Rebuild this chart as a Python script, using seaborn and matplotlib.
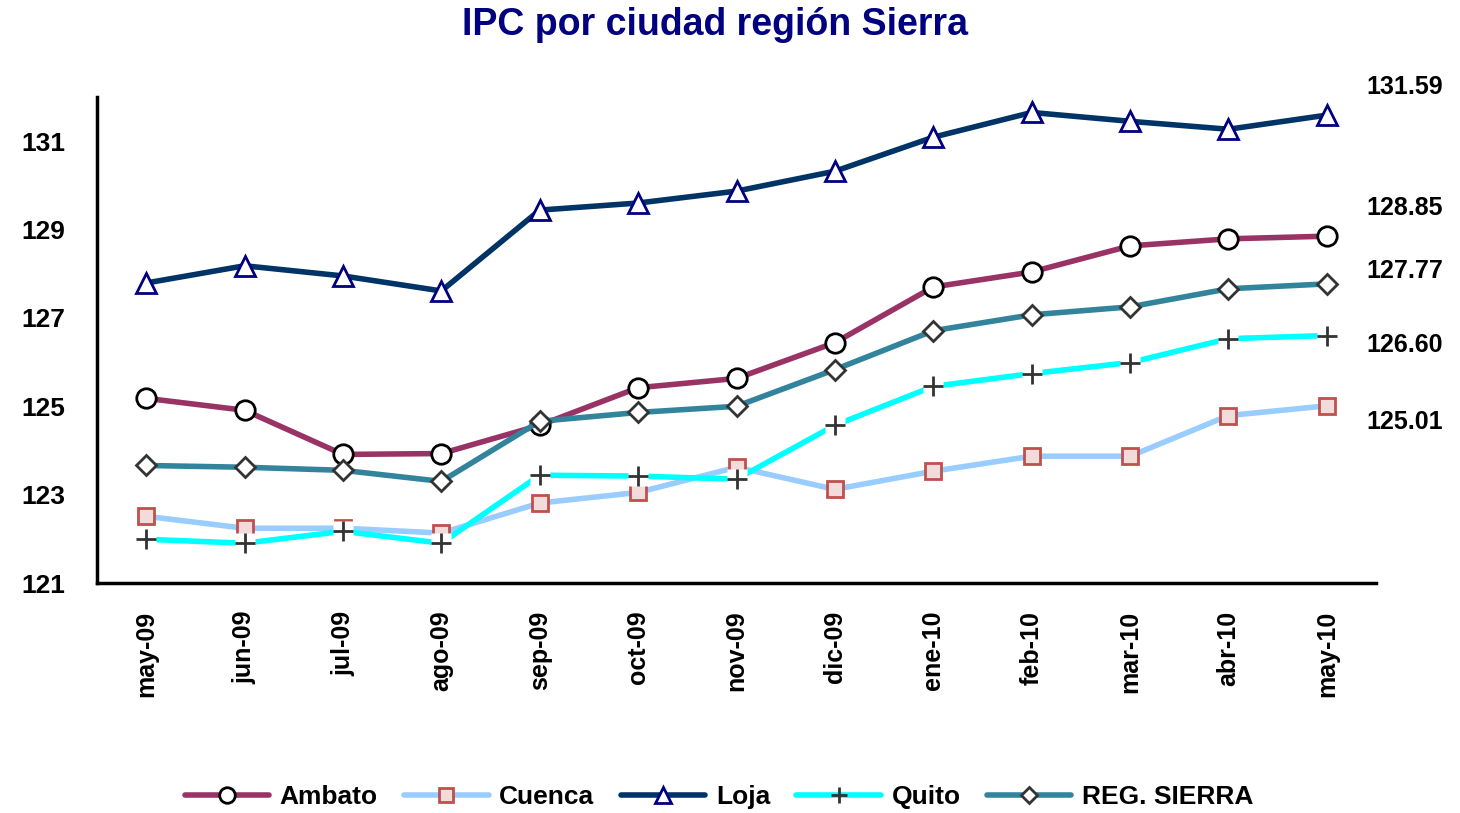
import matplotlib
matplotlib.use("Agg")
import matplotlib.pyplot as plt
import seaborn as sns
import numpy as np
import pandas as pd
from matplotlib.lines import Line2D

months = ["may-09", "jun-09", "jul-09", "ago-09", "sep-09", "oct-09", "nov-09",
          "dic-09", "ene-10", "feb-10", "mar-10", "abr-10", "may-10"]

ambato = [125.18, 124.91, 123.91, 123.93, 124.57, 125.42, 125.63, 126.44, 127.70, 128.04, 128.63, 128.79, 128.85]
cuenca = [122.51, 122.24, 122.24, 122.13, 122.81, 123.05, 123.62, 123.12, 123.53, 123.87, 123.87, 124.79, 125.01]
loja = [127.79, 128.18, 127.95, 127.61, 129.44, 129.60, 129.87, 130.32, 131.09, 131.65, 131.45, 131.27, 131.59]
quito = [121.99, 121.90, 122.17, 121.90, 123.44, 123.42, 123.35, 124.57, 125.45, 125.74, 125.99, 126.53, 126.60]
sierra = [123.66, 123.62, 123.55, 123.30, 124.66, 124.86, 125.00, 125.83, 126.71, 127.07, 127.25, 127.66, 127.77]

series_names = ["Ambato", "Cuenca", "Loja", "Quito", "REG. SIERRA"]
last_labels = ["131.59", "128.85", "127.77", "126.60", "125.01"]
y_ticks = [121, 123, 125, 127, 129, 131]
title = "IPC por ciudad región Sierra"

sns.set_theme(style="white")
plt.rcParams["font.family"] = ["Liberation Sans", "DejaVu Sans"]
plt.rcParams["font.weight"] = "bold"
plt.rcParams["text.color"] = "black"
plt.rcParams["xtick.color"] = "black"
plt.rcParams["ytick.color"] = "black"

fig = plt.figure(figsize=(14.6, 8.13), dpi=100)
ax = fig.add_axes([97 / 1460, 1 - 583 / 813, (1376 - 97) / 1460, (583 - 97) / 813])

x = np.arange(len(months))
styles = {
    "Ambato": dict(color="#993366", marker="o", mfc="white", mec="black", ms=14, mew=2),
    "Cuenca": dict(color="#99CCFF", marker="s", mfc="#F2DCDB", mec="#C0504D", ms=12, mew=2),
    "Loja": dict(color="#003366", marker="^", mfc="white", mec="#000080", ms=14, mew=2),
    "Quito": dict(color="#00FFFF", marker="+", mfc="none", mec="#333333", ms=14, mew=2),
    "REG. SIERRA": dict(color="#31849B", marker="D", mfc="white", mec="#333333", ms=10, mew=2),
}
data = dict(zip(series_names, [ambato, cuenca, loja, quito, sierra]))

for i, name in enumerate(series_names):
    st = styles[name]
    df = pd.DataFrame({"x": x, "y": data[name]})
    sns.lineplot(data=df, x="x", y="y", ax=ax, color=st["color"], linewidth=4,
                 zorder=2 + i, legend=False)
    if name == "Quito":
        ax.plot(x, data[name], linestyle="none", marker="s", ms=15, mfc="white",
                mec="none", zorder=2 + i + 0.1)
    ax.plot(x, data[name], linestyle="none", marker=st["marker"], ms=st["ms"],
            mfc=st["mfc"], mec=st["mec"], mew=st["mew"], zorder=2 + i + 0.2)

ax.set_xlim(-0.5, len(months) - 0.5)
ax.set_ylim(121, 132)
ax.set_yticks(y_ticks)
ax.set_yticklabels([str(v) for v in y_ticks], fontsize=19, fontweight="bold", color="black")
ax.set_xticks(np.arange(-0.5, len(months), 1.0))
ax.set_xticklabels([])
ax.set_xticks(x, minor=True)
ax.set_xticklabels(months, minor=True, rotation=90, fontsize=18, fontweight="bold", color="black")
ax.tick_params(axis="x", which="minor", length=0, pad=20)
ax.tick_params(axis="x", which="major", direction="out", length=8, width=2.5, color="black")
ax.tick_params(axis="y", direction="out", length=8, width=2.5, color="black", pad=15)
ax.set_xlabel("")
ax.set_ylabel("")
for side in ["top", "right"]:
    ax.spines[side].set_visible(False)
for side in ["left", "bottom"]:
    ax.spines[side].set_color("black")
    ax.spines[side].set_linewidth(2.5)
ax.grid(False)

fig.text(715 / 1460, 1 - 25 / 813, title, ha="center", va="center", fontsize=27,
         fontweight="bold", color="#000080")

label_y = [87, 208, 271, 345, 422]
for lab, yy in zip(last_labels, label_y):
    fig.text(1405 / 1460, 1 - yy / 813, lab, ha="center", va="center", fontsize=18,
             fontweight="bold", color="black")

handles = []
for name in series_names:
    st = styles[name]
    handles.append(Line2D([0], [0], color=st["color"], linewidth=4, marker=st["marker"],
                          ms=st["ms"] * 0.8, mfc=st["mfc"], mec=st["mec"], mew=st["mew"]))
fig.legend(handles, series_names, loc="center", bbox_to_anchor=(719 / 1460, 1 - 797 / 813),
           ncol=5, frameon=False, handlelength=3.2, columnspacing=1.0, handletextpad=0.4,
           prop={"size": 19, "weight": "bold"})

fig.savefig("out.png", dpi=100)
